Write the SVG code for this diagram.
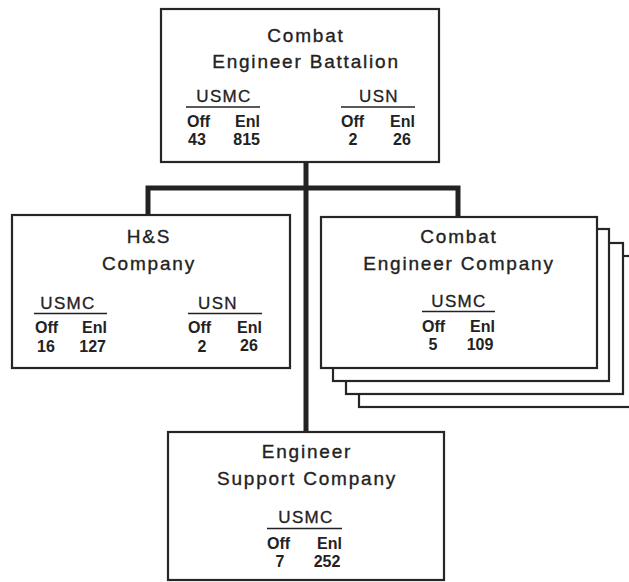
<svg xmlns="http://www.w3.org/2000/svg" width="629" height="582" viewBox="0 0 629 582">
<style>
.box{fill:#fff;stroke:#262626;stroke-width:2.2}
.conn{fill:none;stroke:#222;stroke-width:5;stroke-linejoin:miter}
.t{font-family:"Liberation Sans",Arial,sans-serif;font-size:19px;letter-spacing:1.8px;fill:#222;stroke:#222;stroke-width:0.35;text-anchor:middle}
.h{font-family:"Liberation Sans",Arial,sans-serif;font-size:17px;letter-spacing:1.3px;fill:#222;stroke:#222;stroke-width:0.3;text-anchor:middle}
.c{font-family:"Liberation Sans",Arial,sans-serif;font-size:16px;font-weight:bold;fill:#222}
.s{text-anchor:start}.e{text-anchor:end}.m{text-anchor:middle}
.ul{stroke:#222;stroke-width:1.6}
</style>
<rect width="629" height="582" fill="#fff"/>
<g id="connectors">
<path class="conn" d="M148,215 V188 H458 V217"/>
<path class="conn" d="M306,162 V432"/>
</g>
<g id="battalion">
<rect class="box" x="161" y="9" width="278" height="153"/>
<text class="t" x="306" y="42">Combat</text>
<text class="t" x="306" y="68">Engineer Battalion</text>
<text class="h" x="224" y="102">USMC</text>
<line class="ul" x1="186" y1="107" x2="260" y2="107"/>
<text class="c s" x="187" y="127">Off</text>
<text class="c e" x="260" y="127">Enl</text>
<text class="c s" x="188" y="145">43</text>
<text class="c e" x="260" y="145">815</text>
<text class="h" x="379" y="102">USN</text>
<line class="ul" x1="341" y1="107" x2="415" y2="107"/>
<text class="c s" x="341" y="127">Off</text>
<text class="c e" x="415" y="127">Enl</text>
<text class="c m" x="353" y="145">2</text>
<text class="c m" x="402" y="145">26</text>
</g>
<g id="hs-company">
<rect class="box" x="12" y="215" width="278" height="153"/>
<text class="t" x="149" y="243">H&amp;S</text>
<text class="t" x="149" y="270">Company</text>
<text class="h" x="68" y="309">USMC</text>
<line class="ul" x1="34" y1="313.5" x2="107" y2="313.5"/>
<text class="c s" x="35" y="333">Off</text>
<text class="c e" x="107" y="333">Enl</text>
<text class="c s" x="37" y="352">16</text>
<text class="c e" x="106" y="352">127</text>
<text class="h" x="218" y="309">USN</text>
<line class="ul" x1="188" y1="313.5" x2="262" y2="313.5"/>
<text class="c s" x="188" y="333">Off</text>
<text class="c e" x="262" y="333">Enl</text>
<text class="c m" x="202" y="352">2</text>
<text class="c m" x="249" y="351">26</text>
</g>
<g id="combat-engineer-company">
<rect class="box" x="359" y="256" width="290" height="151"/>
<rect class="box" x="346" y="243" width="277" height="151"/>
<rect class="box" x="333" y="229" width="276" height="152"/>
<rect class="box" x="321" y="217" width="276" height="151"/>
<text class="t" x="459" y="243">Combat</text>
<text class="t" x="459" y="270">Engineer Company</text>
<text class="h" x="459" y="307">USMC</text>
<line class="ul" x1="422" y1="311.5" x2="495" y2="311.5"/>
<text class="c s" x="422" y="332">Off</text>
<text class="c e" x="495" y="332">Enl</text>
<text class="c m" x="433" y="350">5</text>
<text class="c m" x="480" y="350">109</text>
</g>
<g id="engineer-support-company">
<rect class="box" x="168" y="432" width="276" height="148"/>
<text class="t" x="307" y="458">Engineer</text>
<text class="t" x="307" y="485">Support Company</text>
<text class="h" x="306" y="523">USMC</text>
<line class="ul" x1="267" y1="528.5" x2="342" y2="528.5"/>
<text class="c s" x="267" y="549">Off</text>
<text class="c e" x="342" y="549">Enl</text>
<text class="c m" x="280" y="567">7</text>
<text class="c m" x="327" y="567">252</text>
</g>
</svg>
